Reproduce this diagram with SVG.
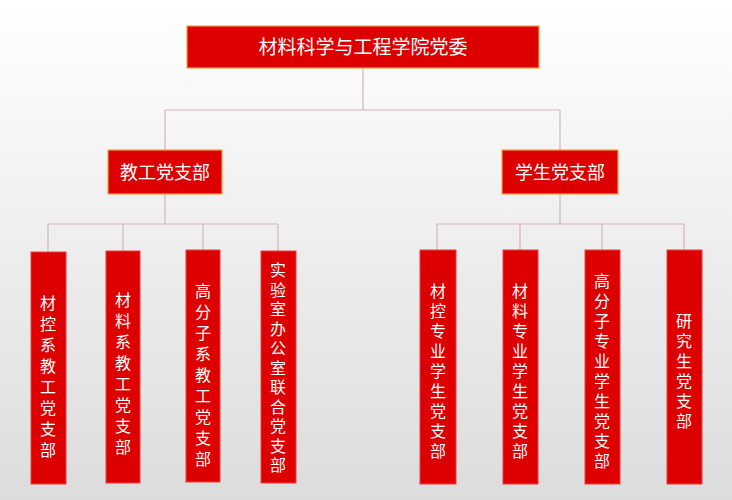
<svg xmlns="http://www.w3.org/2000/svg" width="732" height="500" viewBox="0 0 732 500">
<defs>
<linearGradient id="bg" x1="0" y1="0" x2="0" y2="1"><stop offset="0" stop-color="#ffffff"/><stop offset="1" stop-color="#dcdcdc"/></linearGradient>
<style>
.b{fill:#dd0000;stroke:#f0a040;stroke-width:1.2}
.v{fill:#dd0000;stroke:#e84040;stroke-width:1}
.t{fill:#fff;font-family:"Noto Sans CJK SC",sans-serif;text-anchor:middle}
.c{fill:none;stroke:#d9b3bb;stroke-width:1.2}
</style>
</defs>
<rect width="732" height="500" fill="url(#bg)"/>
<g id="connectors">
<path class="c" d="M363 68V110M165 110H560M165 110V150M560 110V150"/>
<path class="c" d="M165 194V224M48 224H278M48 224V252M123 224V251M203 224V250M278 224V251"/>
<path class="c" d="M560 194V224M437 224H684M437 224V250M520 224V250M602 224V250M684 224V250"/>
</g>
<g id="root"><rect class="b" x="187" y="26" width="352" height="42"/><text class="t" x="363" y="54" font-size="19">材料科学与工程学院党委</text></g>
<g id="jg"><rect class="b" x="108" y="150" width="114" height="44"/><text class="t" x="165" y="179" font-size="18">教工党支部</text></g>
<g id="xs"><rect class="b" x="502" y="150" width="116" height="44"/><text class="t" x="560" y="179" font-size="18">学生党支部</text></g>
<g id="n1"><rect class="v" x="31" y="252" width="35" height="232"/><text class="t" x="48" y="309" font-size="16"><tspan x="48" dy="0">材</tspan><tspan x="48" dy="21">控</tspan><tspan x="48" dy="21">系</tspan><tspan x="48" dy="21">教</tspan><tspan x="48" dy="21">工</tspan><tspan x="48" dy="21">党</tspan><tspan x="48" dy="21">支</tspan><tspan x="48" dy="21">部</tspan></text></g>
<g id="n2"><rect class="v" x="106" y="251" width="34" height="232"/><text class="t" x="123" y="306" font-size="16"><tspan x="123" dy="0">材</tspan><tspan x="123" dy="21">料</tspan><tspan x="123" dy="21">系</tspan><tspan x="123" dy="21">教</tspan><tspan x="123" dy="21">工</tspan><tspan x="123" dy="21">党</tspan><tspan x="123" dy="21">支</tspan><tspan x="123" dy="21">部</tspan></text></g>
<g id="n3"><rect class="v" x="186" y="250" width="34" height="232"/><text class="t" x="203" y="297" font-size="16"><tspan x="203" dy="0">高</tspan><tspan x="203" dy="21">分</tspan><tspan x="203" dy="21">子</tspan><tspan x="203" dy="21">系</tspan><tspan x="203" dy="21">教</tspan><tspan x="203" dy="21">工</tspan><tspan x="203" dy="21">党</tspan><tspan x="203" dy="21">支</tspan><tspan x="203" dy="21">部</tspan></text></g>
<g id="n4"><rect class="v" x="261" y="251" width="35" height="232"/><text class="t" x="278" y="276" font-size="16"><tspan x="278" dy="0">实</tspan><tspan x="278" dy="19.5">验</tspan><tspan x="278" dy="19.5">室</tspan><tspan x="278" dy="19.5">办</tspan><tspan x="278" dy="19.5">公</tspan><tspan x="278" dy="19.5">室</tspan><tspan x="278" dy="19.5">联</tspan><tspan x="278" dy="19.5">合</tspan><tspan x="278" dy="19.5">党</tspan><tspan x="278" dy="19.5">支</tspan><tspan x="278" dy="19.5">部</tspan></text></g>
<g id="n5"><rect class="v" x="420" y="250" width="36" height="234"/><text class="t" x="438" y="297" font-size="16"><tspan x="438" dy="0">材</tspan><tspan x="438" dy="20">控</tspan><tspan x="438" dy="20">专</tspan><tspan x="438" dy="20">业</tspan><tspan x="438" dy="20">学</tspan><tspan x="438" dy="20">生</tspan><tspan x="438" dy="20">党</tspan><tspan x="438" dy="20">支</tspan><tspan x="438" dy="20">部</tspan></text></g>
<g id="n6"><rect class="v" x="503" y="250" width="35" height="234"/><text class="t" x="520" y="297" font-size="16"><tspan x="520" dy="0">材</tspan><tspan x="520" dy="20">料</tspan><tspan x="520" dy="20">专</tspan><tspan x="520" dy="20">业</tspan><tspan x="520" dy="20">学</tspan><tspan x="520" dy="20">生</tspan><tspan x="520" dy="20">党</tspan><tspan x="520" dy="20">支</tspan><tspan x="520" dy="20">部</tspan></text></g>
<g id="n7"><rect class="v" x="585" y="250" width="35" height="234"/><text class="t" x="602" y="287" font-size="16"><tspan x="602" dy="0">高</tspan><tspan x="602" dy="20">分</tspan><tspan x="602" dy="20">子</tspan><tspan x="602" dy="20">专</tspan><tspan x="602" dy="20">业</tspan><tspan x="602" dy="20">学</tspan><tspan x="602" dy="20">生</tspan><tspan x="602" dy="20">党</tspan><tspan x="602" dy="20">支</tspan><tspan x="602" dy="20">部</tspan></text></g>
<g id="n8"><rect class="v" x="667" y="250" width="35" height="234"/><text class="t" x="684" y="327" font-size="16"><tspan x="684" dy="0">研</tspan><tspan x="684" dy="20">究</tspan><tspan x="684" dy="20">生</tspan><tspan x="684" dy="20">党</tspan><tspan x="684" dy="20">支</tspan><tspan x="684" dy="20">部</tspan></text></g>
</svg>
